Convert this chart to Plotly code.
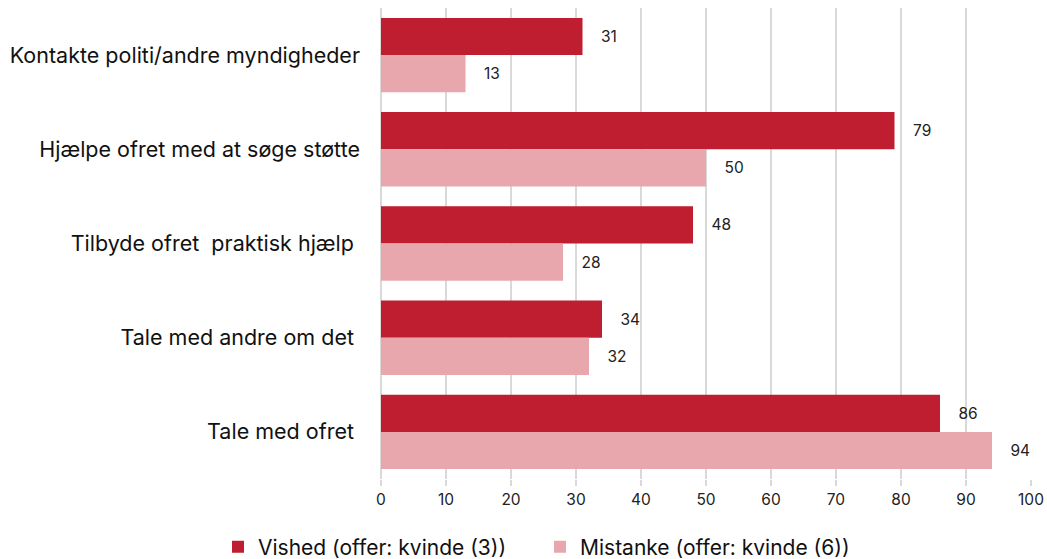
import plotly.graph_objects as go

categories = [
    "Kontakte politi/andre myndigheder",
    "Hjælpe ofret med at søge støtte",
    "Tilbyde ofret\u00a0 praktisk hjælp\u00a0",
    "Tale med andre om det\u00a0",
    "Tale med ofret\u00a0",
]
vished = [31, 79, 48, 34, 86]
mistanke = [13, 50, 28, 32, 94]
series_names = ["Vished (offer: kvinde (3))", "Mistanke (offer: kvinde (6))"]
x_ticks = list(range(0, 101, 10))

FONT = "Inter, Roboto, Arial, sans-serif"
DARK = "#BE1E2F"
LIGHT = "#E7A7AD"

fig = go.Figure()
for name, vals, col in [(series_names[0], vished, DARK), (series_names[1], mistanke, LIGHT)]:
    fig.add_trace(go.Bar(
        y=categories, x=vals, name=name, orientation="h",
        marker=dict(color=col, line=dict(width=0)),
        texttemplate="\u2003%{x}", textposition="outside",
        textfont=dict(size=15.5, color="#222222", family=FONT),
        cliponaxis=False,
    ))

fig.update_layout(
    width=1047, height=559,
    margin=dict(l=381, r=16, t=8, b=80, autoexpand=False),
    barmode="group", bargap=0.21, bargroupgap=0,
    plot_bgcolor="white", paper_bgcolor="white",
    font=dict(family=FONT, color="#111111"),
    showlegend=True,
    legend=dict(
        orientation="h", xref="container", yref="container",
        x=218 / 1047, xanchor="left", y=0.0215, yanchor="middle",
        font=dict(size=21, family=FONT, color="#111111"),
        itemwidth=30, traceorder="normal",
        entrywidth=277, entrywidthmode="pixels",
    ),
)
fig.update_xaxes(
    range=[0, 100], tickvals=x_ticks, showgrid=True,
    gridcolor="#d9d9d9", gridwidth=2,
    zeroline=True, zerolinecolor="#d9d9d9", zerolinewidth=2,
    ticks="outside", ticklen=6, tickcolor="#d9d9d9", tickwidth=2,
    tickfont=dict(size=15.5, family=FONT, color="#222222"),
    showline=False, automargin=False,
)
fig.update_yaxes(
    autorange="reversed", showgrid=False, ticks="",
    ticklabelstandoff=20,
    tickfont=dict(size=21.5, family=FONT, color="#111111"),
    showline=False, automargin=False,
)

fig.write_html(
    "out.html",
    config={"displayModeBar": False},
    post_script="document.body.style.margin='0';document.body.style.overflow='hidden';",
)
